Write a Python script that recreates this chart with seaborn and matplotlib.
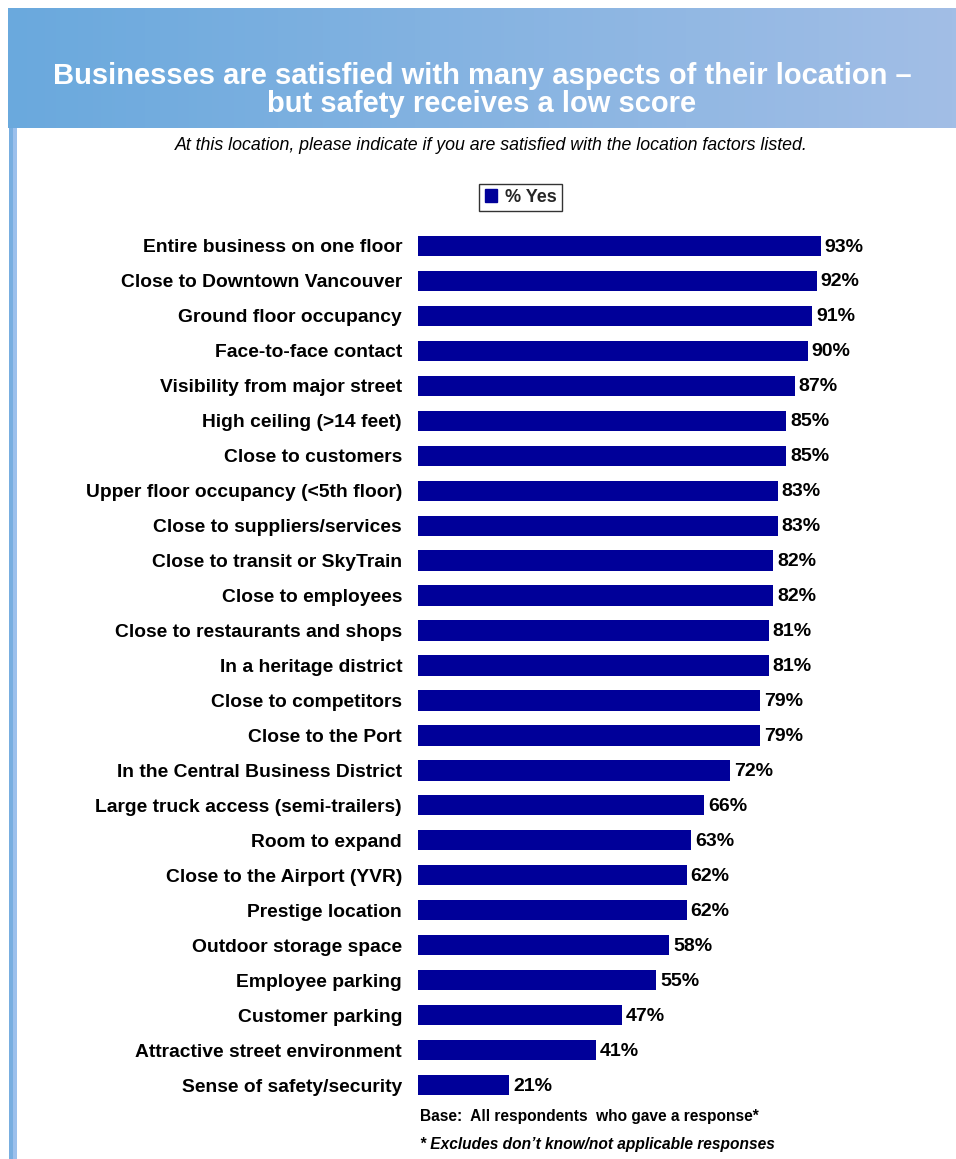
import numpy as np
import pandas as pd
import matplotlib
matplotlib.use("Agg")
import matplotlib.pyplot as plt
from matplotlib.patches import Patch
import seaborn as sns

factors = [
    "Entire business on one floor",
    "Close to Downtown Vancouver",
    "Ground floor occupancy",
    "Face-to-face contact",
    "Visibility from major street",
    "High ceiling (>14 feet)",
    "Close to customers",
    "Upper floor occupancy (<5th floor)",
    "Close to suppliers/services",
    "Close to transit or SkyTrain",
    "Close to employees",
    "Close to restaurants and shops",
    "In a heritage district",
    "Close to competitors",
    "Close to the Port",
    "In the Central Business District",
    "Large truck access (semi-trailers)",
    "Room to expand",
    "Close to the Airport (YVR)",
    "Prestige location",
    "Outdoor storage space",
    "Employee parking",
    "Customer parking",
    "Attractive street environment",
    "Sense of safety/security",
]
pct_yes = [93, 92, 91, 90, 87, 85, 85, 83, 83, 82, 82, 81, 81, 79, 79,
           72, 66, 63, 62, 62, 58, 55, 47, 41, 21]
series_name = "% Yes"

title_text = ("Businesses are satisfied with many aspects of their location \u2013\n"
              "but safety receives a low score")
subtitle_text = "At this location, please indicate if you are satisfied with the location factors listed."
base_note = "Base:  All respondents  who gave a response*"
excl_note = "* Excludes don\u2019t know/not applicable responses"

df = pd.DataFrame({"factor": factors, "pct": pct_yes, "series": series_name})

sns.set_theme(style="white")
plt.rcParams["font.family"] = ["Liberation Sans", "DejaVu Sans"]

W, H = 956, 1159
fig = plt.figure(figsize=(W / 100, H / 100), dpi=100)
fig.patch.set_facecolor("white")

def fx(px):
    return px / W

def fy(py):
    return 1 - py / H

# header banner with horizontal gradient
hdr = fig.add_axes([fx(8), fy(128), fx(956 - 8), (128 - 8) / H])
grad = np.linspace(0, 1, 256)[None, :]
c0 = np.array([0x6a, 0xa9, 0xdd]) / 255
c1 = np.array([0xa2, 0xbe, 0xe6]) / 255
img = c0[None, None, :] * (1 - grad[..., None]) + c1[None, None, :] * grad[..., None]
hdr.imshow(img, aspect="auto", extent=[0, 1, 0, 1])
hdr.set_axis_off()
hdr.text(0.5, 0.315, title_text, color="white", fontsize=21, fontweight="bold",
         ha="center", va="center", linespacing=1.02, transform=hdr.transAxes)

# left vertical stripe
stripe = fig.add_axes([fx(9), 0, fx(8), fy(128)])
simg = np.array([[[0x78, 0xae, 0xe0], [0x9c, 0xc0, 0xec]]]) / 255
stripe.imshow(simg, aspect="auto", extent=[0, 1, 0, 1])
stripe.set_axis_off()

fig.text(fx(491), fy(145), subtitle_text, ha="center", va="center",
         fontsize=12.8, style="italic", color="black")

# bar chart
ax = fig.add_axes([fx(418), fy(1102.5), fx(851.3 - 418), (1102.5 - 228.5) / H])
bar_color = "#000099"
sns.barplot(data=df, x="pct", y="factor", hue="series", palette=[bar_color],
            orient="h", width=0.58, ax=ax, saturation=1, legend=False, linewidth=0)
ax.set_xlim(0, 100)
ax.set_ylim(len(factors) - 0.5, -0.5)
ax.set_xlabel("")
ax.set_ylabel("")
ax.set_xticks([])
for s in ax.spines.values():
    s.set_visible(False)
ax.tick_params(axis="y", length=0, pad=11.5)
for lbl in ax.get_yticklabels():
    lbl.set_fontweight("bold")
    lbl.set_fontsize(13.9)
    lbl.set_color("black")

for i, v in enumerate(pct_yes):
    ax.text(v + 0.9, i + 0.03, f"{v}%", ha="left", va="center", fontsize=14,
            fontweight="bold", color="black")

# legend
leg = fig.legend(handles=[Patch(facecolor=bar_color, edgecolor=bar_color)],
                 labels=[series_name], loc="center", bbox_to_anchor=(fx(520.5), fy(197.5)),
                 frameon=True, fancybox=False, handlelength=0.7, handleheight=0.7,
                 handletextpad=0.4, borderpad=0.3, prop={"weight": "bold", "size": 13})
leg.get_frame().set_edgecolor("black")
leg.get_frame().set_linewidth(1.0)

fig.text(fx(420), fy(1116), base_note, ha="left", va="center", fontsize=11.2,
         fontweight="bold", color="black")
fig.text(fx(420), fy(1145), excl_note, ha="left", va="center", fontsize=11.2,
         fontweight="bold", style="italic", color="black")

fig.savefig("out.png", dpi=100, facecolor="white")
